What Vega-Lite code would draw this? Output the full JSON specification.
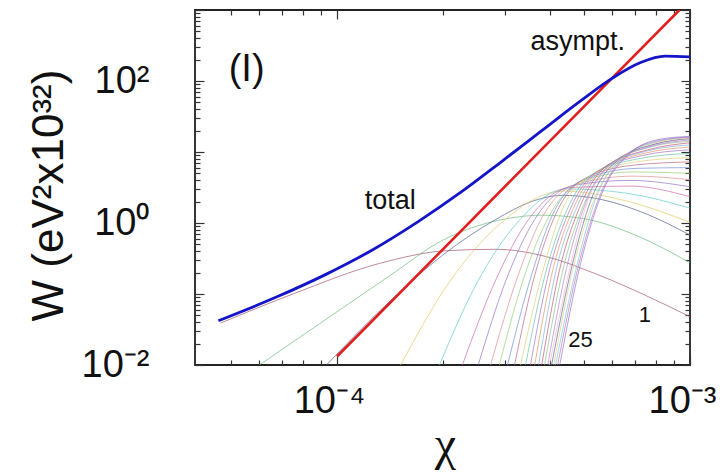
{
  "$schema": "https://vega.github.io/schema/vega-lite/v6.json",
  "width": 495,
  "height": 355,
  "autosize": {"type": "none"},
  "padding": {"left": 195, "top": 10, "right": 30, "bottom": 109},
  "background": "white",
  "config": {
    "view": {"stroke": "#222", "strokeWidth": 1.8},
    "axis": {"grid": false, "domain": false, "tickColor": "#333", "tickWidth": 1.2, "labelFont": "Liberation Sans", "labelColor": "#111", "titleColor": "#111", "titleFontWeight": "normal", "titleFont": "Liberation Sans"}
  },
  "datasets": {
    "harmonics": [
      {"n":1,"x":4.677e-5,"W":0.0389},{"n":1,"x":7.586e-5,"W":0.1023},{"n":1,"x":1.318e-4,"W":0.2692},{"n":1,"x":2.042e-4,"W":0.4074},{"n":1,"x":2.818e-4,"W":0.4266},{"n":1,"x":3.890e-4,"W":0.3388},{"n":1,"x":5.370e-4,"W":0.1950},{"n":1,"x":7.413e-4,"W":0.0977},{"n":1,"x":1e-3,"W":0.0479},
      {"n":2,"x":6.026e-5,"W":0.01},{"n":2,"x":1e-4,"W":0.0562},{"n":2,"x":1.413e-4,"W":0.182},{"n":2,"x":1.995e-4,"W":0.575},{"n":2,"x":2.399e-4,"W":0.851},{"n":2,"x":3.020e-4,"W":1.148},{"n":2,"x":3.802e-4,"W":1.288},{"n":2,"x":5.012e-4,"W":1.148},{"n":2,"x":7.079e-4,"W":0.661},{"n":2,"x":1e-3,"W":0.275},
      {"n":3,"x":9.333e-5,"W":0.01},{"n":3,"x":1.413e-4,"W":0.0794},{"n":3,"x":1.995e-4,"W":0.3548},{"n":3,"x":2.818e-4,"W":1.122},{"n":3,"x":3.548e-4,"W":1.995},{"n":3,"x":4.365e-4,"W":2.455},{"n":3,"x":5.623e-4,"W":2.138},{"n":3,"x":7.586e-4,"W":1.318},{"n":3,"x":1e-3,"W":0.676},
      {"n":4,"x":1.514e-4,"W":0.01},{"n":4,"x":2.089e-4,"W":0.1514},{"n":4,"x":2.884e-4,"W":0.955},{"n":4,"x":4.365e-4,"W":2.818},{"n":4,"x":6.607e-4,"W":2.042},{"n":4,"x":1e-3,"W":1.023},
      {"n":5,"x":1.950e-4,"W":0.01},{"n":5,"x":2.512e-4,"W":0.1549},{"n":5,"x":3.236e-4,"W":1.0},{"n":5,"x":4.467e-4,"W":3.020},{"n":5,"x":6.607e-4,"W":2.630},{"n":5,"x":1e-3,"W":1.622},
      {"n":6,"x":2.265e-4,"W":0.01},{"n":6,"x":2.818e-4,"W":0.1585},{"n":6,"x":3.467e-4,"W":1.072},{"n":6,"x":4.571e-4,"W":3.162},{"n":6,"x":6.761e-4,"W":3.311},{"n":6,"x":1e-3,"W":2.344},
      {"n":7,"x":2.512e-4,"W":0.01},{"n":7,"x":3.020e-4,"W":0.1622},{"n":7,"x":3.631e-4,"W":1.122},{"n":7,"x":4.677e-4,"W":3.388},{"n":7,"x":6.761e-4,"W":3.981},{"n":7,"x":1e-3,"W":3.236},
      {"n":8,"x":2.723e-4,"W":0.01},{"n":8,"x":3.236e-4,"W":0.1660},{"n":8,"x":3.802e-4,"W":1.175},{"n":8,"x":4.786e-4,"W":3.548},{"n":8,"x":6.918e-4,"W":4.571},{"n":8,"x":1e-3,"W":4.074},
      {"n":9,"x":2.884e-4,"W":0.01},{"n":9,"x":3.388e-4,"W":0.1738},{"n":9,"x":3.981e-4,"W":1.230},{"n":9,"x":4.898e-4,"W":3.802},{"n":9,"x":6.918e-4,"W":5.248},{"n":9,"x":1e-3,"W":5.012},
      {"n":10,"x":3.041e-4,"W":0.01},{"n":10,"x":3.548e-4,"W":0.1778},{"n":10,"x":4.074e-4,"W":1.288},{"n":10,"x":4.943e-4,"W":3.981},{"n":10,"x":7.079e-4,"W":5.888},{"n":10,"x":1e-3,"W":6.026},
      {"n":11,"x":3.184e-4,"W":0.01},{"n":11,"x":3.631e-4,"W":0.1820},{"n":11,"x":4.169e-4,"W":1.349},{"n":11,"x":5.047e-4,"W":4.266},{"n":11,"x":7.079e-4,"W":6.607},{"n":11,"x":1e-3,"W":7.244},
      {"n":12,"x":3.311e-4,"W":0.01},{"n":12,"x":3.802e-4,"W":0.1862},{"n":12,"x":4.315e-4,"W":1.413},{"n":12,"x":5.152e-4,"W":4.467},{"n":12,"x":7.244e-4,"W":7.413},{"n":12,"x":1e-3,"W":8.318},
      {"n":13,"x":3.420e-4,"W":0.01},{"n":13,"x":3.890e-4,"W":0.1905},{"n":13,"x":4.467e-4,"W":1.479},{"n":13,"x":5.260e-4,"W":4.786},{"n":13,"x":7.244e-4,"W":8.128},{"n":13,"x":1e-3,"W":9.550},
      {"n":14,"x":3.532e-4,"W":0.01},{"n":14,"x":3.981e-4,"W":0.1995},{"n":14,"x":4.571e-4,"W":1.549},{"n":14,"x":5.370e-4,"W":5.012},{"n":14,"x":7.328e-4,"W":8.913},{"n":14,"x":1e-3,"W":10.72},
      {"n":15,"x":3.631e-4,"W":0.01},{"n":15,"x":4.074e-4,"W":0.2042},{"n":15,"x":4.677e-4,"W":1.622},{"n":15,"x":5.495e-4,"W":5.370},{"n":15,"x":7.413e-4,"W":9.550},{"n":15,"x":1e-3,"W":11.75},
      {"n":16,"x":3.724e-4,"W":0.01},{"n":16,"x":4.169e-4,"W":0.2089},{"n":16,"x":4.786e-4,"W":1.698},{"n":16,"x":5.610e-4,"W":5.623},{"n":16,"x":7.499e-4,"W":10.23},{"n":16,"x":1e-3,"W":12.59},
      {"n":17,"x":3.802e-4,"W":0.01},{"n":17,"x":4.266e-4,"W":0.2138},{"n":17,"x":4.898e-4,"W":1.778},{"n":17,"x":5.728e-4,"W":6.026},{"n":17,"x":7.586e-4,"W":10.72},{"n":17,"x":1e-3,"W":13.49},
      {"n":18,"x":3.873e-4,"W":0.01},{"n":18,"x":4.365e-4,"W":0.2188},{"n":18,"x":5.012e-4,"W":1.862},{"n":18,"x":5.848e-4,"W":6.310},{"n":18,"x":7.586e-4,"W":11.48},{"n":18,"x":1e-3,"W":14.13},
      {"n":19,"x":3.954e-4,"W":0.01},{"n":19,"x":4.467e-4,"W":0.2291},{"n":19,"x":5.070e-4,"W":1.950},{"n":19,"x":5.970e-4,"W":6.761},{"n":19,"x":7.762e-4,"W":12.02},{"n":19,"x":1e-3,"W":14.79},
      {"n":20,"x":3.999e-4,"W":0.01},{"n":20,"x":4.571e-4,"W":0.2344},{"n":20,"x":5.129e-4,"W":2.042},{"n":20,"x":6.095e-4,"W":7.079},{"n":20,"x":7.762e-4,"W":12.59},{"n":20,"x":1e-3,"W":15.14},
      {"n":21,"x":4.055e-4,"W":0.01},{"n":21,"x":4.624e-4,"W":0.2399},{"n":21,"x":5.248e-4,"W":2.138},{"n":21,"x":6.223e-4,"W":7.586},{"n":21,"x":7.943e-4,"W":12.88},{"n":21,"x":1e-3,"W":15.49},
      {"n":22,"x":4.111e-4,"W":0.01},{"n":22,"x":4.677e-4,"W":0.2455},{"n":22,"x":5.370e-4,"W":2.239},{"n":22,"x":6.353e-4,"W":7.943},{"n":22,"x":7.943e-4,"W":13.49},{"n":22,"x":1e-3,"W":15.85},
      {"n":23,"x":4.159e-4,"W":0.01},{"n":23,"x":4.786e-4,"W":0.2570},{"n":23,"x":5.433e-4,"W":2.344},{"n":23,"x":6.486e-4,"W":8.511},{"n":23,"x":8.128e-4,"W":14.13},{"n":23,"x":1e-3,"W":16.22},
      {"n":24,"x":4.217e-4,"W":0.01},{"n":24,"x":4.842e-4,"W":0.2630},{"n":24,"x":5.559e-4,"W":2.455},{"n":24,"x":6.622e-4,"W":9.120},{"n":24,"x":8.128e-4,"W":14.45},{"n":24,"x":1e-3,"W":16.22},
      {"n":25,"x":4.276e-4,"W":0.01},{"n":25,"x":4.898e-4,"W":0.2692},{"n":25,"x":5.623e-4,"W":2.570},{"n":25,"x":6.761e-4,"W":9.550},{"n":25,"x":8.222e-4,"W":15.14},{"n":25,"x":1e-3,"W":16.60}
    ],
    "asym": [{"x":1e-4,"W":0.01318},{"x":3.162e-4,"W":4.315},{"x":9.333e-4,"W":1000}],
    "total": [
      {"x":4.613e-5,"W":0.04207},{"x":6.761e-5,"W":0.0912},{"x":9.333e-5,"W":0.1905},{"x":1.259e-4,"W":0.4169},{"x":1.698e-4,"W":1.047},{"x":2.239e-4,"W":2.692},{"x":2.951e-4,"W":7.586},{"x":3.802e-4,"W":19.95},{"x":4.898e-4,"W":52.48},{"x":6.026e-4,"W":109.6},{"x":7.244e-4,"W":182.0},{"x":8.511e-4,"W":223.9},{"x":1e-3,"W":218.8}
    ],
    "lab_big": [{"label":"(I)","x":5.546e-5,"W":142.9}],
    "lab_mid": [{"label":"total","x":1.416e-4,"W":2.04},{"label":"asympt.","x":4.808e-4,"W":354}],
    "lab_small": [{"label":"1","x":7.447e-4,"W":0.0506},{"label":"25","x":4.898e-4,"W":0.0225}]
  },
  "resolve": {"scale": {"x": "independent", "y": "independent"}, "axis": {"x": "independent", "y": "independent"}},
  "layer": [
    {
      "data": {"name": "harmonics"},
      "mark": {"type": "line", "strokeWidth": 0.9, "opacity": 0.75, "interpolate": "monotone", "clip": true},
      "encoding": {
        "x": {"field": "x", "type": "quantitative", "scale": {"type": "log", "domain": [3.96e-5, 0.001], "nice": false},
              "axis": {"orient": "bottom", "values": [0.0001, 0.001], "tickSize": -9, "labelExpr": "datum.value < 0.0005 ? '10⁻⁴' : '10⁻³'", "labelFontSize": 38, "labelPadding": 26, "labelOffset": -8, "labelFlush": false, "labelBound": false,
                       "title": "χ", "titleFont": "Liberation Serif", "titleFontSize": 48, "titleX": 250, "titleY": 94, "titleBaseline": "alphabetic", "titleAlign": "center", "titleAnchor": null}},
        "y": {"field": "W", "type": "quantitative", "scale": {"type": "log", "domain": [0.01, 1000], "nice": false},
              "axis": {"orient": "left", "values": [0.01, 0.1, 1, 10, 100, 1000], "tickSize": -9, "labelExpr": "round(log(datum.value)/LN10) == -2 ? '10⁻²' : round(log(datum.value)/LN10) == 0 ? '10⁰' : round(log(datum.value)/LN10) == 2 ? '10²' : ''", "labelFontSize": 38, "labelPadding": 55, "labelFlush": false,
                       "title": "W (eV²x10³²)", "titleFontSize": 44, "titleX": -133, "titleY": 185, "titleAngle": -90, "titleBaseline": "alphabetic", "titleAlign": "center"}},
        "color": {"field": "n", "type": "nominal", "legend": null,
                  "scale": {"domain": [1,2,3,4,5,6,7,8,9,10,11,12,13,14,15,16,17,18,19,20,21,22,23,24,25],
                            "range": ["#a0506a","#66bb77","#4a5a8a","#e0c860","#5cc8c8","#cc66aa","#8c6cc8","#e08a8a","#90cc70","#6c8ad8","#b8607a","#d8d070","#60c0a8","#a070c0","#e09060","#7aaedc","#c05070","#88c088","#b080d0","#e8b8d0","#606090","#e0d080","#70c8e0","#c070b0","#9070d0"]}}
      }
    },
    {
      "data": {"name": "asym"},
      "mark": {"type": "line", "color": "#e02020", "strokeWidth": 2.6, "clip": true},
      "encoding": {
        "x": {"field": "x", "type": "quantitative", "scale": {"type": "log", "domain": [3.96e-5, 0.001], "nice": false},
              "axis": {"orient": "bottom", "values": [5e-5,6e-5,7e-5,8e-5,9e-5,2e-4,3e-4,4e-4,5e-4,6e-4,7e-4,8e-4,9e-4], "tickSize": -5, "labels": false, "title": null}},
        "y": {"field": "W", "type": "quantitative", "scale": {"type": "log", "domain": [0.01, 1000], "nice": false},
              "axis": {"orient": "left", "values": [0.02,0.03,0.04,0.05,0.06,0.07,0.08,0.09,0.2,0.3,0.4,0.5,0.6,0.7,0.8,0.9,2,3,4,5,6,7,8,9,20,30,40,50,60,70,80,90,200,300,400,500,600,700,800,900], "tickSize": -5, "labels": false, "title": null}}
      }
    },
    {
      "data": {"name": "total"},
      "mark": {"type": "line", "color": "#1414c8", "strokeWidth": 2.8, "interpolate": "monotone", "clip": true},
      "encoding": {
        "x": {"field": "x", "type": "quantitative", "scale": {"type": "log", "domain": [3.96e-5, 0.001], "nice": false},
              "axis": {"orient": "top", "values": [0.0001, 0.001], "tickSize": -9, "labels": false, "title": null}},
        "y": {"field": "W", "type": "quantitative", "scale": {"type": "log", "domain": [0.01, 1000], "nice": false},
              "axis": {"orient": "right", "values": [0.01, 0.1, 1, 10, 100, 1000], "tickSize": -9, "labels": false, "title": null}}
      }
    },
    {
      "data": {"name": "lab_big"},
      "mark": {"type": "text", "font": "Liberation Sans", "fontSize": 38, "color": "#111", "align": "center", "baseline": "middle"},
      "encoding": {
        "x": {"field": "x", "type": "quantitative", "scale": {"type": "log", "domain": [3.96e-5, 0.001], "nice": false},
              "axis": {"orient": "top", "values": [5e-5,6e-5,7e-5,8e-5,9e-5,2e-4,3e-4,4e-4,5e-4,6e-4,7e-4,8e-4,9e-4], "tickSize": -5, "labels": false, "title": null}},
        "y": {"field": "W", "type": "quantitative", "scale": {"type": "log", "domain": [0.01, 1000], "nice": false},
              "axis": {"orient": "right", "values": [0.02,0.03,0.04,0.05,0.06,0.07,0.08,0.09,0.2,0.3,0.4,0.5,0.6,0.7,0.8,0.9,2,3,4,5,6,7,8,9,20,30,40,50,60,70,80,90,200,300,400,500,600,700,800,900], "tickSize": -5, "labels": false, "title": null}},
        "text": {"field": "label", "type": "nominal"}
      }
    },
    {
      "data": {"name": "lab_mid"},
      "mark": {"type": "text", "font": "Liberation Sans", "fontSize": 27, "color": "#111", "align": "center", "baseline": "middle"},
      "encoding": {
        "x": {"field": "x", "type": "quantitative", "scale": {"type": "log", "domain": [3.96e-5, 0.001], "nice": false}, "axis": null},
        "y": {"field": "W", "type": "quantitative", "scale": {"type": "log", "domain": [0.01, 1000], "nice": false}, "axis": null},
        "text": {"field": "label", "type": "nominal"}
      }
    },
    {
      "data": {"name": "lab_small"},
      "mark": {"type": "text", "font": "Liberation Sans", "fontSize": 22, "color": "#111", "align": "center", "baseline": "middle"},
      "encoding": {
        "x": {"field": "x", "type": "quantitative", "scale": {"type": "log", "domain": [3.96e-5, 0.001], "nice": false}, "axis": null},
        "y": {"field": "W", "type": "quantitative", "scale": {"type": "log", "domain": [0.01, 1000], "nice": false}, "axis": null},
        "text": {"field": "label", "type": "nominal"}
      }
    }
  ]
}
